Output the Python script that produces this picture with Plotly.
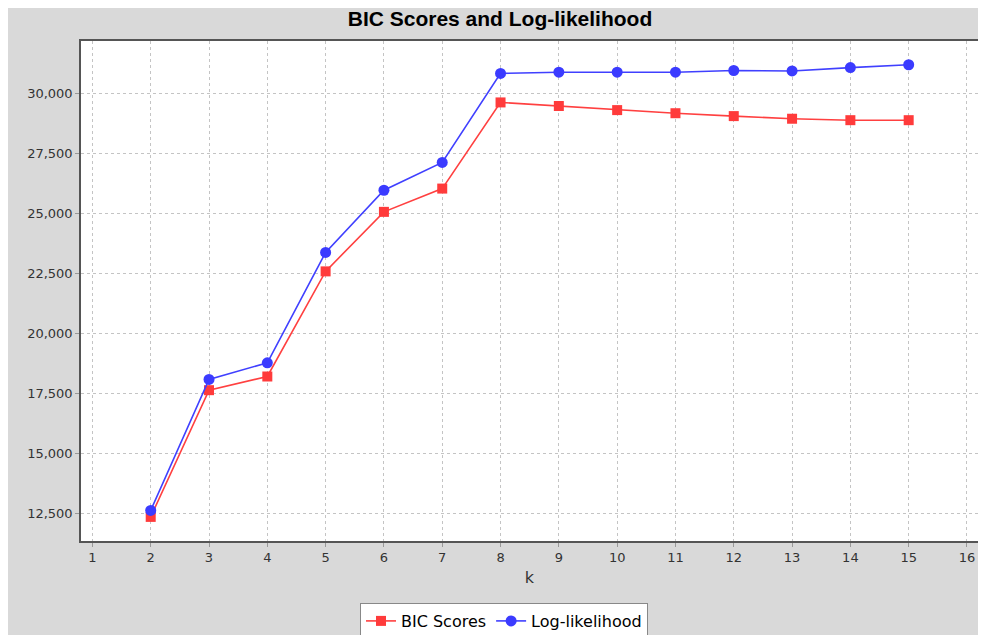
import plotly.graph_objects as go

k_values = [2, 3, 4, 5, 6, 7, 8, 9, 10, 11, 12, 13, 14, 15]
bic_scores = [12350, 17630, 18200, 22580, 25060, 26030, 29620, 29470, 29300, 29170, 29050, 28940, 28880, 28880]
log_likelihood = [12620, 18080, 18770, 23370, 25960, 27120, 30830, 30880, 30880, 30880, 30950, 30930, 31070, 31190]
y_ticks = [12500, 15000, 17500, 20000, 22500, 25000, 27500, 30000]
x_ticks = list(range(1, 17))

W, H = 970, 627
ml, mr, mt, mb = 73, 0, 33, 94
pw, ph = W - ml - mr, H - mt - mb

fig = go.Figure()
fig.add_trace(go.Scatter(
    x=k_values, y=bic_scores, name="BIC Scores", mode="lines+markers",
    line=dict(color="#ff4040", width=1.6),
    marker=dict(symbol="square", size=10, color="#ff3b3b"),
))
fig.add_trace(go.Scatter(
    x=k_values, y=log_likelihood, name="Log-likelihood", mode="lines+markers",
    line=dict(color="#4040ff", width=1.6),
    marker=dict(symbol="circle", size=11, color="#3b3bff"),
))

grid = dict(showgrid=True, gridcolor="#c4c4c4", gridwidth=1, griddash="3px,3px",
            zeroline=False, ticks="outside", ticklen=4, tickcolor="#999999",
            tickfont=dict(family="DejaVu Sans", size=13, color="#333333"))

fig.update_xaxes(range=[0.8044, 16.189], tickmode="array", tickvals=x_ticks,
                 showline=True, linecolor="#555555", linewidth=1.5, mirror=True,
                 title=dict(text="k", font=dict(family="DejaVu Sans", size=16, color="#333333"), standoff=7),
                 **grid)
fig.update_yaxes(range=[11346, 32179], tickmode="array", tickvals=y_ticks, tickformat=",",
                 showline=True, linecolor="#555555", linewidth=1.5, **grid)

fig.update_layout(
    width=W, height=H,
    margin=dict(l=ml, r=mr, t=mt, b=mb, autoexpand=False),
    paper_bgcolor="#d9d9d9", plot_bgcolor="white",
    title=dict(text="<b>BIC Scores and Log-likelihood</b>", x=492 / W, xanchor="center",
               y=1 - 11 / H, yanchor="middle",
               font=dict(family="Liberation Sans", size=21, color="black")),
    legend=dict(orientation="h", x=(496 - ml) / pw, xanchor="center", y=(H - mb - 595) / ph, yanchor="top",
                bgcolor="white", bordercolor="#888888", borderwidth=1,
                font=dict(family="DejaVu Sans", size=16, color="black"),
                itemwidth=30, tracegroupgap=0),
    showlegend=True,
)

fig.write_html("out.html")
